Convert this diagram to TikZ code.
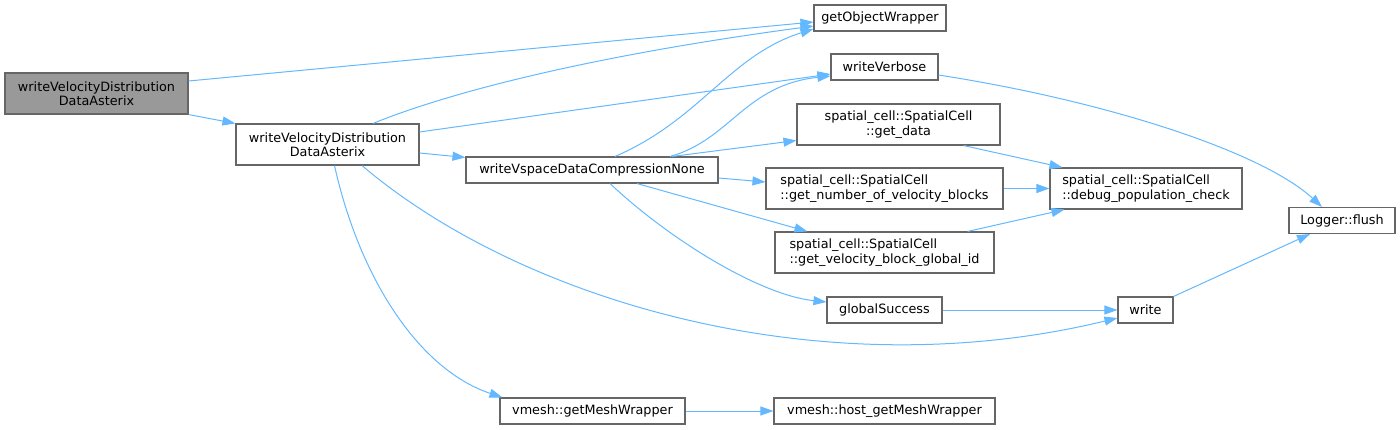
\documentclass[tikz,border=0pt]{standalone}
\usepackage{fontspec}
\setmainfont{DejaVu Sans}
\usetikzlibrary{arrows.meta}
\definecolor{edgeblue}{HTML}{63B8FF}
\definecolor{boxline}{HTML}{666666}
\definecolor{rootfill}{HTML}{999999}
\begin{document}
\begin{tikzpicture}[x=1pt,y=-1pt,
  fn/.style={
    draw=boxline,
    fill=white,
    line width=1.1pt,
    inner sep=0pt,
    align=center,
    font=\fontsize{12.8}{14.3}\selectfont
  },
  root/.style={fn,fill=rootfill},
  call/.style={
    draw=edgeblue,
    line width=1pt,
    -{Triangle[length=13pt,width=9pt]}
  }
]
\useasboundingbox (0,0) rectangle (1400,429);
% functions, left to right
\node[root,minimum width=183pt,minimum height=41pt] (main) at (96.5,93.5) {writeVelocityDistribution\\DataAsterix};
\node[fn,minimum width=183pt,minimum height=41pt] (wvdda) at (327.5,144.5) {writeVelocityDistribution\\DataAsterix};
\node[fn,minimum width=252pt,minimum height=26pt] (wvscn) at (592,170) {writeVspaceDataCompressionNone};
\node[fn,minimum width=132pt,minimum height=26pt] (gow) at (880,18) {getObjectWrapper};
\node[fn,minimum width=107pt,minimum height=26pt] (wverb) at (884.5,67) {writeVerbose};
\node[fn,minimum width=203pt,minimum height=41pt] (getdata) at (898.5,124.5) {spatial\_cell::SpatialCell\\::get\_data};
\node[fn,align=left,minimum width=237pt,minimum height=41pt] (getnum) at (884.5,188.5) {spatial\_cell::SpatialCell\\::get\_number\_of\_velocity\_blocks};
\node[fn,align=left,minimum width=192pt,minimum height=41pt] (debug) at (1146,188.5) {spatial\_cell::SpatialCell\\::debug\_population\_check};
\node[fn,minimum width=106pt,minimum height=26pt] (flush) at (1342,220.5) {Logger::flush};
\node[fn,align=left,minimum width=219pt,minimum height=41pt] (gvbgid) at (884.5,252.5) {spatial\_cell::SpatialCell\\::get\_velocity\_block\_global\_id};
\node[fn,minimum width=115pt,minimum height=26pt] (gsucc) at (884.5,310) {globalSuccess};
\node[fn,minimum width=55pt,minimum height=26pt] (write) at (1145.5,310) {write};
\node[fn,minimum width=185pt,minimum height=26pt] (getmesh) at (592.5,411) {vmesh::getMeshWrapper};
\node[fn,minimum width=221pt,minimum height=26pt] (host) at (884.5,411) {vmesh::host\_getMeshWrapper};
% calls
\draw[call] ([yshift=12.5pt]main.east) -- ([yshift=-4pt]gow.west);
\draw[call] (main.south east) -- (wvdda.north west);
\draw[call] ([xshift=45.5pt]wvdda.north) .. controls (430,100) and (560,60) .. ([yshift=-8pt]gow.west);
\draw[call] ([yshift=12.5pt]wvdda.east) -- ([yshift=-7pt]wverb.west);
\draw[call] ([yshift=-8.5pt]wvdda.east) -- ([yshift=-1pt]wvscn.north west);
\draw[call] ([xshift=34.5pt]wvdda.south) .. controls (520,300) and (820,390) .. ([yshift=-8pt]write.west);
\draw[call] ([xshift=7pt]wvdda.south) .. controls (360,280) and (420,370) .. ([xshift=3pt]getmesh.north west);
\draw[call] ([xshift=23pt]wvscn.north) .. controls (700,120) and (730,55) .. ([yshift=-11pt]gow.west);
\draw[call] ([xshift=78pt]wvscn.north) .. controls (730,140) and (745,85) .. ([yshift=-9pt]wverb.west);
\draw[call] ([xshift=80pt]wvscn.north) -- ([yshift=-16pt]getdata.west);
\draw[call] ([yshift=-8pt]wvscn.east) -- ([yshift=6.5pt]getnum.west);
\draw[call] ([xshift=45pt]wvscn.south) -- ([xshift=33pt]gvbgid.north west);
\draw[call] ([xshift=18pt]wvscn.south) .. controls (670,240) and (760,295) .. ([yshift=8pt]gsucc.west);
\draw[call] ([yshift=-8pt]wverb.east) .. controls (1100,100) and (1260,150) .. ([xshift=-20pt]flush.north);
\draw[call] ([xshift=-37pt]getdata.south east) -- ([xshift=13pt]debug.north west);
\draw[call] (getnum.east) -- (debug.west);
\draw[call] ([xshift=-27pt]gvbgid.north east) -- ([xshift=15pt]debug.south west);
\draw[call] (gsucc.east) -- (write.west);
\draw[call] (write.north east) -- ([xshift=-32pt]flush.south);
\draw[call] (getmesh.east) -- (host.west);
\end{tikzpicture}
\end{document}
